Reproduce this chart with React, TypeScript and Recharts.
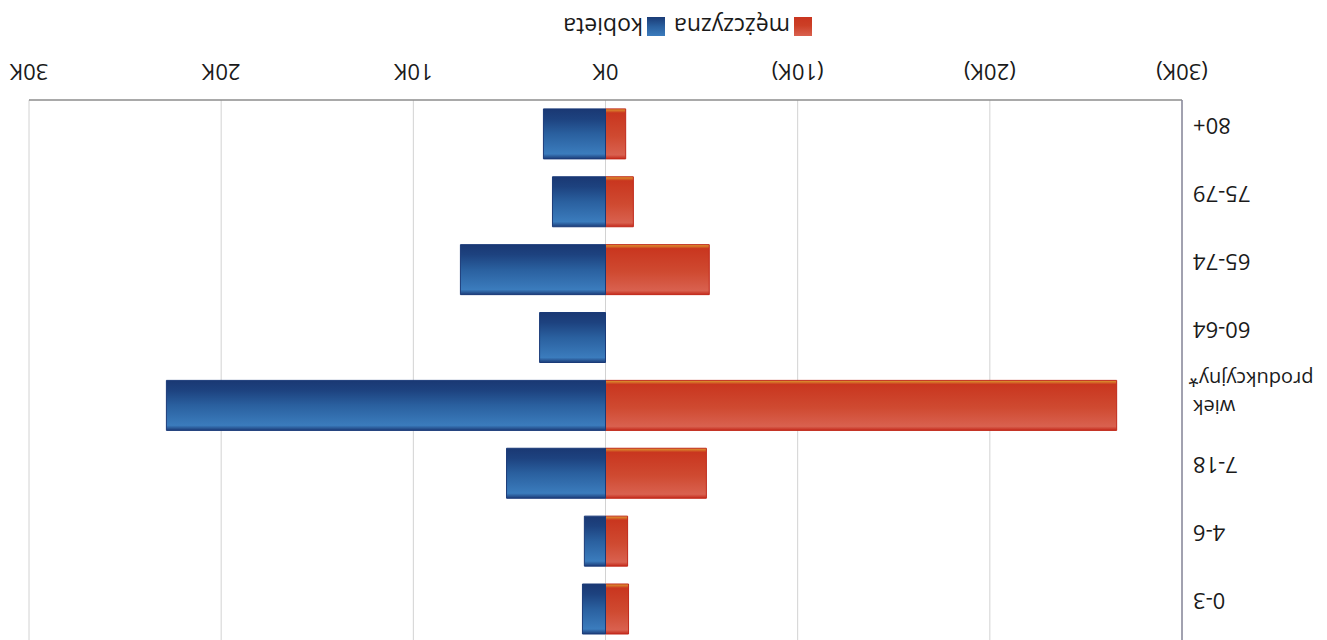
import { BarChart, Bar, XAxis, YAxis, CartesianGrid, Legend } from 'recharts';

const categories = ['0-3', '4-6', '7-18', 'wiek produkcyjny*', '60-64', '65-74', '75-79', '80+'];
// men are drawn to the left as negative values
const menValues = [-1200, -1150, -5250, -26600, 0, -5400, -1450, -1050];
const womenValues = [1200, 1100, 5150, 22850, 3430, 7550, 2760, 3230];
const xTicks = [-30000, -20000, -10000, 0, 10000, 20000, 30000];

const data = categories.map((name, i) => ({
  name,
  men: menValues[i],
  women: womenValues[i],
}));

const FONT = "'Open Sans', sans-serif";

const formatTick = (v: number) => (v < 0 ? `(${-v / 1000}K)` : `${v / 1000}K`);

function CategoryTick({ x, y, payload }: any) {
  const words = String(payload.value).split(' ');
  if (words.length === 1) {
    return (
      <text x={x} y={y + 16} textAnchor="end" fill="#1a1a1a" fontSize={22} fontFamily={FONT}>
        {payload.value}
      </text>
    );
  }
  return (
    <g>
      {words.map((w, i) => (
        <text
          key={w}
          x={x + (i === 0 ? 0 : 5)}
          y={y + 5 + i * 28}
          textAnchor="end"
          fill="#1a1a1a"
          fontSize={20}
          fontFamily={FONT}
        >
          {w}
        </text>
      ))}
    </g>
  );
}

const swatches: Record<string, { label: string; bg: string }> = {
  men: { label: 'mężczyzna', bg: 'linear-gradient(#d9614f, #cc3f26 55%, #c9351f)' },
  women: { label: 'kobieta', bg: 'linear-gradient(#3b7cbd, #2a609f 50%, #1a3b76)' },
};

function LegendContent() {
  return (
    <div style={{ display: 'flex', alignItems: 'center', fontFamily: FONT, fontSize: 23, color: '#1a1a1a', lineHeight: '24px' }}>
      {['men', 'women'].map((k, i) => (
        <div key={k} style={{ display: 'flex', alignItems: 'center', marginLeft: i === 0 ? 0 : 9 }}>
          <span style={{ display: 'inline-block', width: 18, height: 19, background: swatches[k].bg }} />
          <span style={{ marginLeft: 4 }}>{swatches[k].label}</span>
        </div>
      ))}
    </div>
  );
}

export default function App() {
  return (
    <div
      style={{
        position: 'absolute',
        left: 0,
        top: 0,
        width: 1327,
        height: 640,
        overflow: 'hidden',
        background: '#fff',
        transform: 'rotate(180deg)',
      }}
    >
      <BarChart
        width={1327}
        height={640}
        data={data}
        layout="vertical"
        stackOffset="sign"
        barSize={50}
        margin={{ top: -3, right: 29, left: 0, bottom: 70 }}
      >
        <defs>
          <linearGradient id="gradMen" x1="0" y1="0" x2="0" y2="1">
            <stop offset="0%" stopColor="#c42a1c" />
            <stop offset="8%" stopColor="#d9614f" />
            <stop offset="45%" stopColor="#cf4a31" />
            <stop offset="92%" stopColor="#c9361f" />
            <stop offset="100%" stopColor="#e0a030" />
          </linearGradient>
          <linearGradient id="gradWomen" x1="0" y1="0" x2="0" y2="1">
            <stop offset="0%" stopColor="#1c3c78" />
            <stop offset="10%" stopColor="#3b7cbd" />
            <stop offset="50%" stopColor="#2a609f" />
            <stop offset="80%" stopColor="#1d427f" />
            <stop offset="100%" stopColor="#1a3873" />
          </linearGradient>
        </defs>
        <CartesianGrid horizontal={false} stroke="#d2d2d2" />
        <XAxis
          type="number"
          domain={[-30000, 30000]}
          ticks={xTicks}
          tickFormatter={formatTick}
          interval={0}
          height={30}
          tickLine={false}
          tickSize={0}
          tickMargin={20}
          axisLine={{ stroke: '#8c8c8c', strokeWidth: 1.5 }}
          tick={{ fill: '#1a1a1a', fontSize: 22, fontFamily: FONT }}
        />
        <YAxis
          type="category"
          dataKey="name"
          width={145}
          interval={0}
          tickLine={false}
          tickSize={0}
          tickMargin={11}
          axisLine={{ stroke: '#8a8a9c', strokeWidth: 1.5 }}
          tick={<CategoryTick />}
        />
        <Legend
          layout="horizontal"
          verticalAlign="middle"
          align="center"
          content={<LegendContent />}
          wrapperStyle={{ top: 601, left: 515, width: 300, height: 24 }}
        />
        <Bar dataKey="men" name="mężczyzna" stackId="a" fill="url(#gradMen)" stroke="#c0281a" strokeWidth={1} isAnimationActive={false} />
        <Bar dataKey="women" name="kobieta" stackId="a" fill="url(#gradWomen)" stroke="#1a3a78" strokeWidth={1} isAnimationActive={false} />
      </BarChart>
    </div>
  );
}
